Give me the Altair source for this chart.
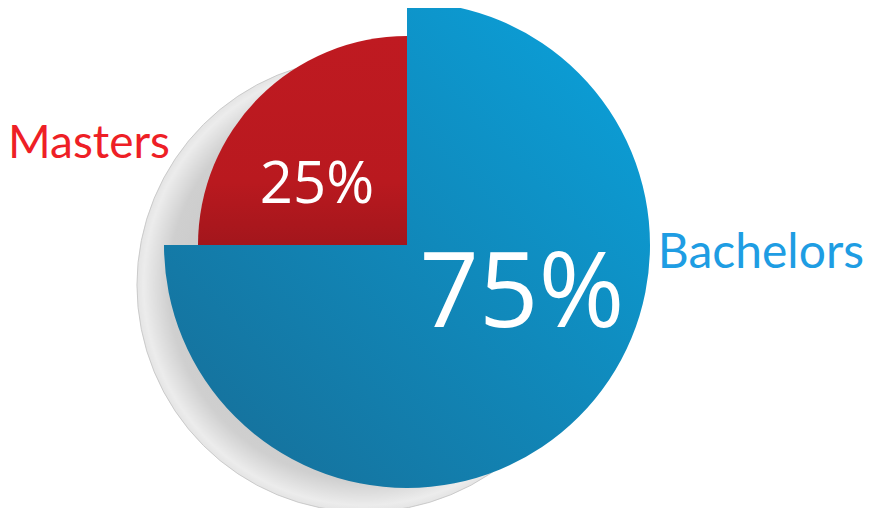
import math
import altair as alt
import pandas as pd

categories = ["Bachelors", "Masters"]
values = [75, 25]

df = pd.DataFrame({"category": categories, "value": values})

CX, CY = 399, 237          # pie centre in chart coords
SX, SY = 356, 277          # shadow centre
theta_scale = alt.Scale(domain=[0, 100], range=[0, 2 * math.pi])

base = alt.Chart(df).transform_window(
    cum="sum(value)", sort=[alt.SortField("category")], frame=[None, 0]
).transform_calculate(
    start="datum.cum - datum.value",
    label="datum.value + '%'",
)

shadow = alt.Chart(df).transform_aggregate(total="sum(value)").transform_calculate(
    zero="0"
).mark_arc(
    color=alt.Gradient(
        gradient="radial", x1=0.5, y1=0.5, r1=0, x2=0.5, y2=0.5, r2=0.5,
        stops=[
            alt.GradientStop(offset=0, color="#b8b8b8"),
            alt.GradientStop(offset=0.86, color="#cfcfcf"),
            alt.GradientStop(offset=0.97, color="#ececec"),
            alt.GradientStop(offset=1, color="#e4e4e4"),
        ],
    ),
    stroke="#c2c2c2", strokeWidth=0.8,
).encode(
    theta=alt.Theta("zero:Q", scale=theta_scale),
    theta2="total:Q",
    radius=alt.value(227),
    x=alt.value(SX), y=alt.value(SY),
)

blue = base.transform_filter(alt.datum.category == "Bachelors").mark_arc(
    color=alt.Gradient(
        gradient="linear", x1=1, y1=0, x2=0, y2=1,
        stops=[
            alt.GradientStop(offset=0, color="#0aa3dd"),
            alt.GradientStop(offset=1, color="#176c95"),
        ],
    ),
).encode(
    theta=alt.Theta("start:Q", scale=theta_scale),
    theta2="cum:Q",
    radius=alt.value(243),
    x=alt.value(CX), y=alt.value(CY),
)

red = base.transform_filter(alt.datum.category == "Masters").mark_arc(
    color=alt.Gradient(
        gradient="linear", x1=0, y1=0, x2=0, y2=1,
        stops=[
            alt.GradientStop(offset=0, color="#bf1a21"),
            alt.GradientStop(offset=0.7, color="#b9191f"),
            alt.GradientStop(offset=1, color="#a3161c"),
        ],
    ),
).encode(
    theta=alt.Theta("start:Q", scale=theta_scale),
    theta2="cum:Q",
    radius=alt.value(209),
    x=alt.value(CX), y=alt.value(CY),
)

pct_font = "Open Sans"
lab_font = "Lato"

pct_red = base.transform_filter(alt.datum.category == "Masters").mark_text(
    font=pct_font, fontSize=58, color="white", align="center", baseline="alphabetic"
).encode(text="label:N", x=alt.value(309), y=alt.value(195))

pct_blue = base.transform_filter(alt.datum.category == "Bachelors").mark_text(
    font=pct_font, fontSize=104, color="white", align="center", baseline="alphabetic"
).encode(text="label:N", x=alt.value(514), y=alt.value(319))

lab_red = base.transform_filter(alt.datum.category == "Masters").mark_text(
    font=lab_font, fontSize=46, color="#ee1f26", align="left", baseline="alphabetic"
).encode(text="category:N", x=alt.value(0), y=alt.value(150))

lab_blue = base.transform_filter(alt.datum.category == "Bachelors").mark_text(
    font=lab_font, fontSize=48, color="#1e9de3", align="right", baseline="alphabetic"
).encode(text="category:N", x=alt.value(856), y=alt.value(260))

chart = alt.layer(shadow, blue, red, pct_red, pct_blue, lab_red, lab_blue).properties(
    width=857, height=500, padding=0, background="white",
    autosize=alt.AutoSizeParams(type="none"),
).configure_view(stroke=None)

chart.save("out.html", embed_options={"renderer": "svg", "actions": False})
